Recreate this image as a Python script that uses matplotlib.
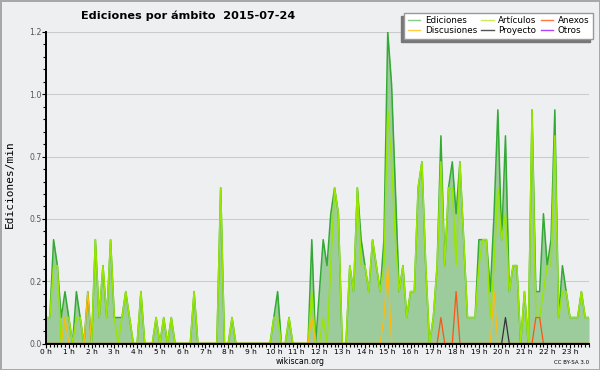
import numpy as np
import matplotlib
matplotlib.use("Agg")
import matplotlib.pyplot as plt
from matplotlib.lines import Line2D
from matplotlib.ticker import FixedLocator, MultipleLocator, FormatStrFormatter

# edits per minute, 10 minute bins, one row per hour (0 h .. 23 h)
ediciones = [
    0.1, 0.1, 0.4, 0.3, 0.1, 0.2,
    0.1, 0.0, 0.2, 0.1, 0.0, 0.2,
    0.0, 0.4, 0.1, 0.3, 0.1, 0.4,
    0.1, 0.1, 0.1, 0.2, 0.1, 0.0,
    0.0, 0.2, 0.0, 0.0, 0.0, 0.1,
    0.0, 0.1, 0.0, 0.1, 0.0, 0.0,
    0.0, 0.0, 0.0, 0.2, 0.0, 0.0,
    0.0, 0.0, 0.0, 0.0, 0.6, 0.0,
    0.0, 0.1, 0.0, 0.0, 0.0, 0.0,
    0.0, 0.0, 0.0, 0.0, 0.0, 0.0,
    0.1, 0.2, 0.0, 0.0, 0.1, 0.0,
    0.0, 0.0, 0.0, 0.0, 0.4, 0.0,
    0.2, 0.4, 0.3, 0.5, 0.6, 0.5,
    0.0, 0.0, 0.3, 0.2, 0.6, 0.4,
    0.3, 0.2, 0.4, 0.3, 0.2, 0.4,
    1.2, 1.0, 0.6, 0.2, 0.3, 0.1,
    0.2, 0.2, 0.6, 0.7, 0.3, 0.0,
    0.1, 0.3, 0.8, 0.3, 0.6, 0.7,
    0.5, 0.7, 0.4, 0.1, 0.1, 0.1,
    0.4, 0.4, 0.4, 0.2, 0.5, 0.9,
    0.4, 0.8, 0.2, 0.3, 0.3, 0.0,
    0.2, 0.0, 0.9, 0.2, 0.2, 0.5,
    0.3, 0.4, 0.9, 0.1, 0.3, 0.2,
    0.1, 0.1, 0.1, 0.2, 0.1, 0.1,
]
articulos = [
    0.1, 0.1, 0.3, 0.3, 0.0, 0.1,
    0.1, 0.0, 0.1, 0.1, 0.0, 0.0,
    0.0, 0.4, 0.1, 0.3, 0.1, 0.4,
    0.1, 0.0, 0.1, 0.2, 0.1, 0.0,
    0.0, 0.2, 0.0, 0.0, 0.0, 0.1,
    0.0, 0.1, 0.0, 0.1, 0.0, 0.0,
    0.0, 0.0, 0.0, 0.2, 0.0, 0.0,
    0.0, 0.0, 0.0, 0.0, 0.6, 0.0,
    0.0, 0.1, 0.0, 0.0, 0.0, 0.0,
    0.0, 0.0, 0.0, 0.0, 0.0, 0.0,
    0.1, 0.1, 0.0, 0.0, 0.1, 0.0,
    0.0, 0.0, 0.0, 0.0, 0.2, 0.0,
    0.0, 0.1, 0.0, 0.3, 0.6, 0.5,
    0.0, 0.0, 0.3, 0.2, 0.6, 0.3,
    0.3, 0.2, 0.4, 0.3, 0.2, 0.3,
    0.9, 0.7, 0.4, 0.2, 0.3, 0.1,
    0.2, 0.2, 0.6, 0.7, 0.3, 0.0,
    0.1, 0.3, 0.7, 0.3, 0.6, 0.6,
    0.3, 0.7, 0.4, 0.1, 0.1, 0.1,
    0.3, 0.4, 0.4, 0.1, 0.3, 0.6,
    0.4, 0.5, 0.2, 0.3, 0.3, 0.0,
    0.2, 0.0, 0.9, 0.1, 0.1, 0.2,
    0.3, 0.3, 0.8, 0.1, 0.2, 0.2,
    0.1, 0.1, 0.1, 0.2, 0.1, 0.1,
]
discusiones = [
    0, 0, 0, 0, 0, 0.1,
    0, 0, 0, 0, 0, 0.2,
    0, 0, 0, 0, 0, 0,
    0, 0, 0, 0, 0, 0,
    0, 0, 0, 0, 0, 0,
    0, 0, 0, 0, 0, 0,
    0, 0, 0, 0, 0, 0,
    0, 0, 0, 0, 0, 0,
    0, 0, 0, 0, 0, 0,
    0, 0, 0, 0, 0, 0,
    0, 0, 0, 0, 0, 0,
    0, 0, 0, 0, 0.1, 0,
    0, 0, 0, 0, 0, 0,
    0, 0, 0, 0, 0, 0,
    0, 0, 0, 0, 0, 0.1,
    0.3, 0, 0, 0, 0, 0,
    0, 0, 0, 0, 0, 0,
    0, 0, 0, 0, 0, 0,
    0, 0, 0, 0, 0, 0,
    0, 0, 0, 0, 0.2, 0,
    0, 0, 0, 0, 0, 0,
    0, 0, 0, 0, 0, 0,
    0, 0, 0, 0, 0, 0,
    0, 0, 0, 0, 0, 0,
]
anexos = [0] * 102 + [0, 0, 0.1, 0, 0, 0,
                      0.2, 0, 0, 0, 0, 0,
                      0, 0, 0, 0, 0, 0,
                      0, 0, 0, 0, 0, 0,
                      0, 0, 0, 0.1, 0.1, 0,
                      0, 0, 0, 0, 0, 0,
                      0, 0, 0, 0, 0, 0]
proyecto = [0] * 120 + [0, 0.1, 0, 0, 0, 0,
                        0, 0, 0, 0, 0, 0,
                        0, 0, 0, 0, 0, 0,
                        0, 0, 0, 0, 0, 0]
otros = [0] * 144

hours = list(range(24))
hour_labels = [f"{h} h" for h in hours]

bg = "#eeeff1"
fig = plt.figure(figsize=(6, 3.7), dpi=100)
fig.patch.set_facecolor(bg)
fig.patch.set_edgecolor("#a8a8a8")
fig.patch.set_linewidth(2)

ax = fig.add_axes([46 / 600, 1 - 343.5 / 370, 543 / 600, 311.5 / 370])
ax.set_facecolor(bg)

x = np.arange(len(ediciones)) / 6

ax.fill_between(x, ediciones, color="#9ccb9c", lw=0, zorder=1)
ax.plot(x, ediciones, color="#33aa33", lw=1.1, zorder=2)
ax.plot(x, articulos, color="#99e600", lw=1.1, zorder=3)
ax.plot(x, discusiones, color="#ffbb11", lw=0.9, zorder=4)
ax.plot(x, anexos, color="#ff5511", lw=0.9, zorder=4)
ax.plot(x, proyecto, color="#333333", lw=0.9, zorder=4)
ax.plot(x, otros, color="#9933ee", lw=0.9, zorder=4)

ax.set_xlim(0, 143 / 6)
ax.set_ylim(0, 1.2)

ax.xaxis.set_major_locator(FixedLocator(hours))
ax.set_xticklabels(hour_labels)
ax.xaxis.set_minor_locator(MultipleLocator(1 / 6))
ax.yaxis.set_major_locator(FixedLocator(np.linspace(0, 1.2, 6)))
ax.yaxis.set_major_formatter(FormatStrFormatter("%.1f"))
ax.yaxis.set_minor_locator(MultipleLocator(0.048))

ax.tick_params(axis="x", which="major", length=3.2, width=0.8, labelsize=5.4, pad=0.5)
ax.tick_params(axis="x", which="minor", length=2, width=0.8)
ax.tick_params(axis="y", which="major", length=3.2, width=0.8, labelsize=5.6,
               labelcolor="#555555", pad=0)
ax.tick_params(axis="y", which="minor", length=2, width=0.8)

ax.grid(axis="y", color="#cccccc", lw=0.8)
ax.set_axisbelow(True)
for s in ["top", "right"]:
    ax.spines[s].set_visible(False)
for s in ["left", "bottom"]:
    ax.spines[s].set_zorder(6)
    ax.spines[s].set_linewidth(1.4)

names = ["Ediciones", "Discusiones", "Artículos", "Proyecto", "Anexos", "Otros"]
colors = ["#88cc88", "#ffcc44", "#ccee55", "#555555", "#ff7744", "#aa44ff"]
handles = [Line2D([], [], color=c, lw=1) for c in colors]
fig.legend(handles, names, ncol=3, loc="upper right",
           bbox_to_anchor=(593 / 600, 1 - 12.5 / 370),
           prop={"family": "DejaVu Sans", "size": 6.3},
           frameon=True, fancybox=False, framealpha=1, facecolor="white",
           edgecolor="#999999", borderpad=0.45, labelspacing=0.12,
           handlelength=1.4, handletextpad=0.5, columnspacing=0.5,
           borderaxespad=0,
           shadow={"ox": -2.2, "oy": -2.2, "facecolor": "#777777",
                   "edgecolor": "#777777", "alpha": 1})

fig.text(188 / 600, 1 - 16 / 370, "Ediciones por ámbito  2015-07-24",
         ha="center", va="center", fontsize=8.1, fontweight="bold")
fig.text(9.5 / 600, 1 - 184 / 370, "Ediciones/min", rotation=90,
         ha="center", va="center", fontsize=8, family="DejaVu Sans Mono")
fig.text(300 / 600, 1 - 361.5 / 370, "wikiscan.org", ha="center", va="center",
         fontsize=5.6)
fig.text(589 / 600, 1 - 362 / 370, "CC BY-SA 3.0", ha="right", va="center",
         fontsize=4)

fig.savefig("out.png", dpi=100, facecolor=bg, edgecolor="#a8a8a8")
